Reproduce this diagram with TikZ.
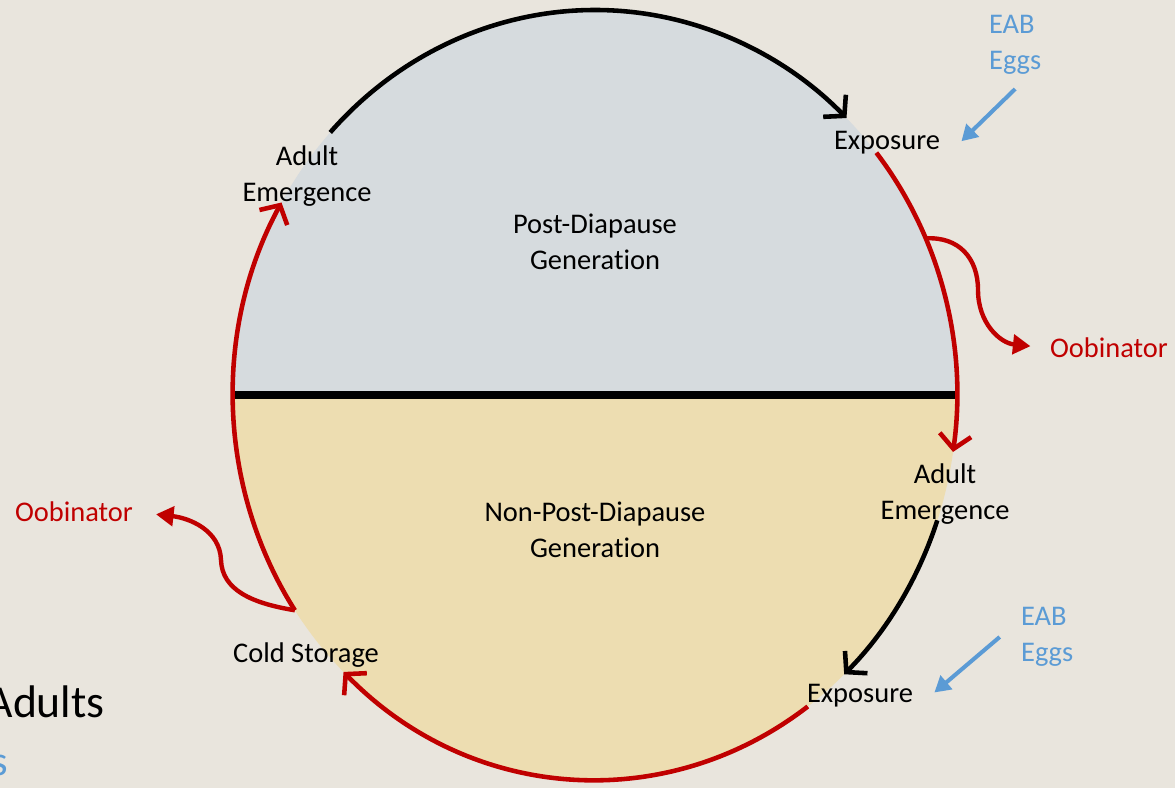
\documentclass[tikz,border=0pt]{standalone}
\usepackage{fontspec}
\setmainfont{Carlito}[RawFeature={-liga}]
\usetikzlibrary{arrows.meta}
\definecolor{paper}{HTML}{E9E5DD}
\definecolor{postfill}{HTML}{D6DBDE}
\definecolor{nonfill}{HTML}{EDDDB1}
\definecolor{cycred}{HTML}{C00000}
\definecolor{eabblue}{HTML}{5B9BD5}
\begin{document}
\begin{tikzpicture}[x=0.02cm,y=0.02cm,
  lbl/.style={inner sep=1pt,align=center,font=\fontsize{16.2}{20.5}\selectfont},
  cyc/.style={line width=2.6pt,-{Straight Barb[length=8pt,width=18pt]}},
  oob/.style={line width=2.5pt,cycred,-{Triangle[length=10pt,width=11pt]}},
  eab/.style={line width=2.3pt,eabblue,-{Triangle[length=9pt,width=10pt]}}]
\useasboundingbox[fill=paper] (0,0) rectangle (1175,788);
\coordinate (c) at (595,393);
% the two generations
\fill[postfill] (c) ++(180:362 and 385) arc[start angle=180,end angle=0,x radius=362,y radius=385] -- cycle;
\fill[nonfill] (c) ++(180:362 and 385) arc[start angle=180,end angle=360,x radius=362,y radius=385] -- cycle;
\draw[line width=4.5pt] (c) ++(-362,0) -- ++(724,0);
% labels
\node[lbl] (adultA) at (307,612) {Adult\\Emergence};
\node[lbl] (post) at (595,546) {Post-Diapause\\Generation};
\node[lbl] (expA) at (887,645) {Exposure};
\node[lbl,eabblue,align=left,anchor=west] (eggsA) at (987,743) {EAB\\Eggs};
\node[lbl,cycred] (oobA) at (1109,440) {Oobinator};
\node[lbl] (adultB) at (945,294) {Adult\\Emergence};
\node[lbl] (nonpost) at (595,258) {Non-Post-Diapause\\Generation};
\node[lbl,eabblue,align=left,anchor=west] (eggsB) at (1019,151) {EAB\\Eggs};
\node[lbl] (expB) at (860,92) {Exposure};
\node[lbl] (cold) at (306,133) {Cold Storage};
\node[lbl,cycred] (oobB) at (74,276) {Oobinator};
\node[anchor=base east,inner sep=0pt,font=\fontsize{26}{30}\selectfont] (adults) at (105,71) {Adults};
\node[anchor=base east,inner sep=0pt,eabblue,font=\fontsize{24}{28}\selectfont] (frag) at (8,13) {s};
% the cycle
\draw[cyc] (c) ++(137:362 and 385) arc[start angle=137,end angle=46,x radius=362,y radius=385];
\draw[cyc,cycred] (c) ++(39:362 and 385) arc[start angle=39,end angle=-8.5,x radius=362,y radius=385];
\draw[cyc] (c) ++(-19:362 and 385) arc[start angle=-19,end angle=-46.5,x radius=362,y radius=385];
\draw[cyc,cycred] (c) ++(-54:362 and 385) arc[start angle=-54,end angle=-134,x radius=362,y radius=385];
\draw[cyc,cycred] (c) ++(214:362 and 385) arc[start angle=214,end angle=150,x radius=362,y radius=385];
% side branches
\path (c) ++(24:362 and 385) coordinate (splitR);
\path (c) ++(214:362 and 385) coordinate (splitL);
\draw[oob,shorten >=10pt] (splitR) .. controls +(33,2) and +(0,32) .. (978,498)
  .. controls +(0,-33) and +(-48,5) .. (oobA.west);
\draw[oob,shorten >=12pt] (splitL) .. controls +(-43,7) and +(1,-30) .. (221,228)
  .. controls +(-1,30) and +(54,-6) .. (oobB.east);
\draw[eab] ([yshift=-7pt]eggsA.south) -- ([xshift=11pt,yshift=1pt]expA.east);
\draw[eab] ([xshift=-11pt]eggsB.west) -- ([xshift=11pt,yshift=2pt]expB.east);
\end{tikzpicture}
\end{document}
